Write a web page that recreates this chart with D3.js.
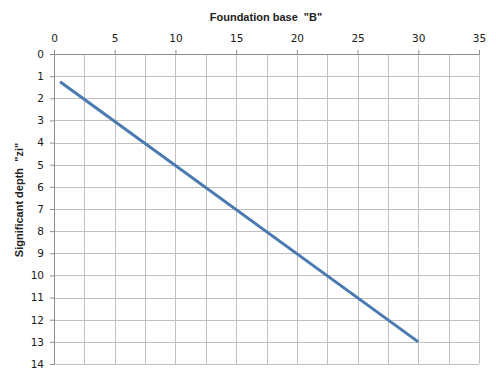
<!DOCTYPE html>
<meta charset="utf-8">
<style>
body { margin: 0; background: #fff; }
text { font-family: Arial, "Liberation Sans", sans-serif; fill: #222; }
.grid line { stroke: #bfbfbf; stroke-width: 1; }
.axis path, .axis line { stroke: #8c8c8c; }
.axis text { font-family: "DejaVu Sans", Verdana, sans-serif; font-size: 10.5px; fill: #1a1a1a; }
.title { font-size: 11px; font-weight: bold; white-space: pre; }
</style>
<svg id="svg" width="496" height="375"></svg>
<script src="https://d3js.org/d3.v7.min.js"></script>
<script>

var baseB = [0.5, 30];
var depthZ = [1.25, 13];
var xTicks = [0, 5, 10, 15, 20, 25, 30, 35];
var yTicks = [0, 1, 2, 3, 4, 5, 6, 7, 8, 9, 10, 11, 12, 13, 14];
var xGrid = [0, 2.5, 5, 7.5, 10, 12.5, 15, 17.5, 20, 22.5, 25, 27.5, 30, 32.5, 35];

var svg = d3.select("svg"),
    margin = {top: 54, left: 54, right: 17, bottom: 11},
    width = 496 - margin.left - margin.right,
    height = 375 - margin.top - margin.bottom;

var x = d3.scaleLinear().domain([0, 35]).range([0, width]);
var y = d3.scaleLinear().domain([0, 14]).range([0, height]);

var g = svg.append("g")
    .attr("transform", "translate(" + margin.left + "," + margin.top + ")");

var grid = g.append("g").attr("class", "grid");
grid.selectAll("line.v")
    .data(xGrid)
    .enter().append("line")
    .attr("class", "v")
    .attr("x1", function(d) { return Math.round(x(d)) + 0.5; })
    .attr("x2", function(d) { return Math.round(x(d)) + 0.5; })
    .attr("y1", 0)
    .attr("y2", height);
grid.selectAll("line.h")
    .data(yTicks)
    .enter().append("line")
    .attr("class", "h")
    .attr("y1", function(d) { return Math.round(y(d)) + 0.5; })
    .attr("y2", function(d) { return Math.round(y(d)) + 0.5; })
    .attr("x1", 0)
    .attr("x2", width);

g.append("g")
    .attr("class", "axis")
    .call(d3.axisTop(x).tickValues(xTicks).tickSize(4).tickSizeOuter(0))
    .call(function(s) { s.selectAll("text").attr("dy", "-0.45em"); });

g.append("g")
    .attr("class", "axis")
    .call(d3.axisLeft(y).tickValues(yTicks).tickSize(4).tickSizeOuter(0))
    .call(function(s) { s.selectAll("text").attr("x", -10); });

var pts = baseB.map(function(b, i) { return [b, depthZ[i]]; });

g.append("path")
    .datum(pts)
    .attr("fill", "none")
    .attr("stroke", "#4a7ab2")
    .attr("stroke-width", 3)
    .attr("d", d3.line()
        .x(function(d) { return x(d[0]); })
        .y(function(d) { return y(d[1]); }));

svg.append("text")
    .attr("class", "title")
    .attr("x", 266)
    .attr("y", 21)
    .attr("text-anchor", "middle")
    .text("Foundation base  \"B\"");

svg.append("text")
    .attr("class", "title")
    .attr("transform", "translate(23,200) rotate(-90)")
    .attr("text-anchor", "middle")
    .text("Significant depth  \"zi\"");

</script>
